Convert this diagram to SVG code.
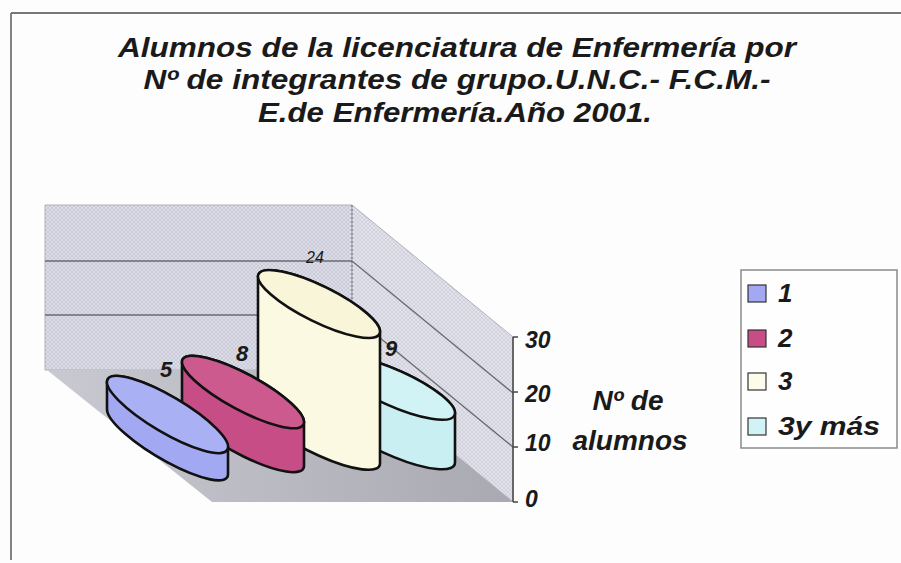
<svg xmlns="http://www.w3.org/2000/svg" width="901" height="563" viewBox="0 0 901 563">
  <defs>
    <style>
      .t { font-family: "Liberation Sans", Arial, sans-serif; font-style: italic; font-weight: bold; fill: #1a1a1a; }
      .title { font-size: 27px; }
      .ax { font-size: 23px; }
      .lg { font-size: 26px; }
      .dl { font-family: "Liberation Sans", Arial, sans-serif; font-style: italic; fill: #1a1a1a; }
      .cyl { stroke: #111; stroke-width: 2.6; stroke-linejoin: round; }
      .grid { stroke: #6a6a72; stroke-width: 1.3; fill: none; }
      .sw { stroke: #333; stroke-width: 1.2; }
    </style>
    <linearGradient id="floorG" x1="0" y1="0" x2="1" y2="0">
      <stop offset="0" stop-color="#c9c9d1"/>
      <stop offset="1" stop-color="#a9a9b2"/>
    </linearGradient>
    <pattern id="hatch" width="4" height="4" patternUnits="userSpaceOnUse">
      <rect width="4" height="4" fill="#dcdde8"/>
      <path d="M0,0 L4,4 M4,0 L0,4" stroke="#c6c7d4" stroke-width="0.8"/>
    </pattern>
    <pattern id="hatch2" width="4" height="4" patternUnits="userSpaceOnUse">
      <rect width="4" height="4" fill="#e3e3ec"/>
      <path d="M0,0 L4,4 M4,0 L0,4" stroke="#cdcdd9" stroke-width="0.8"/>
    </pattern>
  </defs>

  <rect width="901" height="563" fill="#fdfdfd"/>

  <g id="frame" stroke="#777" stroke-width="1.8" fill="none">
    <line x1="11" y1="13" x2="901" y2="13"/>
    <line x1="11" y1="13" x2="11" y2="560"/>
  </g>

  <g id="title" class="t title" text-anchor="middle">
    <text x="457" y="57" textLength="678" lengthAdjust="spacingAndGlyphs">Alumnos de la licenciatura de Enfermería por</text>
    <text x="457" y="89" textLength="627" lengthAdjust="spacingAndGlyphs">Nº de integrantes de grupo.U.N.C.- F.C.M.-</text>
    <text x="455" y="122" textLength="394" lengthAdjust="spacingAndGlyphs">E.de Enfermería.Año 2001.</text>
  </g>

  <g id="plot-area">
    <polygon id="back-wall" points="45,205 352,205 352,370 45,370" fill="url(#hatch)" stroke="#b0b0bc" stroke-width="1"/>
    <polygon id="side-wall" points="352,205 513,337 513,502 352,370" fill="url(#hatch2)" stroke="#b0b0bc" stroke-width="1"/>
    <polygon id="floor" points="47,370 352,370 513,502 212,502" fill="url(#floorG)"/>
    <g id="gridlines" class="grid">
      <line x1="45" y1="261" x2="352" y2="261"/>
      <line x1="45" y1="315" x2="352" y2="315"/>
      <line x1="352" y1="261" x2="513" y2="393"/>
      <line x1="352" y1="315" x2="513" y2="447"/>
      <line x1="352" y1="205" x2="352" y2="370" stroke-dasharray="2,2" stroke-width="1"/>
    </g>
  </g>

  <g id="axis" stroke="#444" stroke-width="1.5">
    <line x1="513" y1="337" x2="513" y2="502"/>
    <line x1="513" y1="337" x2="518" y2="337"/>
    <line x1="513" y1="392" x2="518" y2="392"/>
    <line x1="513" y1="447" x2="518" y2="447"/>
    <line x1="513" y1="502" x2="518" y2="502"/>
  </g>
  <g id="axis-labels" class="t ax">
    <text x="525" y="348">30</text>
    <text x="525" y="402">20</text>
    <text x="525" y="451">10</text>
    <text x="525" y="507">0</text>
  </g>
  <g id="axis-title" class="t" style="font-size:28px" text-anchor="middle">
    <text x="628" y="410">Nº de</text>
    <text x="630" y="450">alumnos</text>
  </g>

  <g id="series-3ymas">
    <path class="cyl" fill="#c9eff3" d="M333,363 L333,412.5 A66.37,18 24.18 0 0 455,462.5 L455,413 A66.37,18 24.18 0 0 333,363 Z"/>
    <ellipse class="cyl" fill="#d2f3f6" cx="394" cy="388" rx="66.37" ry="18" transform="rotate(24.18 394 388)"/>
  </g>
  <g id="series-3">
    <path class="cyl" fill="#fbf9e2" d="M258,276.5 L258,408.5 A67.45,18 26.28 0 0 380,463.5 L380,331.5 A67.45,18 26.28 0 0 258,276.5 Z"/>
    <ellipse class="cyl" fill="#f8f5d8" cx="319" cy="304" rx="67.45" ry="18" transform="rotate(26.28 319 304)"/>
  </g>
  <g id="series-2">
    <path class="cyl" fill="#c64d86" d="M182,362 L182,406 A68.6,18 28.31 0 0 304,466 L304,422 A68.6,18 28.31 0 0 182,362 Z"/>
    <ellipse class="cyl" fill="#cc5a8f" cx="243" cy="392" rx="68.6" ry="18" transform="rotate(28.31 243 392)"/>
  </g>
  <g id="series-1">
    <path class="cyl" fill="#a2a8f2" d="M107,382 L107,409.5 A69.42,18 30.51 0 0 228,474.5 L228,447 A69.42,18 30.51 0 0 107,382 Z"/>
    <ellipse class="cyl" fill="#aab0f4" cx="167.5" cy="414.5" rx="69.42" ry="18" transform="rotate(30.51 167.5 414.5)"/>
  </g>

  <g id="data-labels" class="dl" text-anchor="middle">
    <text x="166" y="377" style="font-size:22px;font-weight:bold">5</text>
    <text x="242" y="361" style="font-size:22px;font-weight:bold">8</text>
    <text x="315" y="263" style="font-size:16px">24</text>
    <text x="391" y="356" style="font-size:22px;font-weight:bold">9</text>
  </g>

  <g id="legend">
    <rect x="741" y="270" width="156" height="178" fill="#fefefe" stroke="#8a8a8a" stroke-width="1.5"/>
    <g id="legend-1">
      <rect class="sw" x="748" y="285" width="18" height="17" fill="#a2a8f2"/>
      <text class="t lg" x="778" y="302">1</text>
    </g>
    <g id="legend-2">
      <rect class="sw" x="748" y="330" width="18" height="17" fill="#c64d86"/>
      <text class="t lg" x="778" y="347">2</text>
    </g>
    <g id="legend-3">
      <rect class="sw" x="748" y="373" width="18" height="17" fill="#fdfbea"/>
      <text class="t lg" x="778" y="390">3</text>
    </g>
    <g id="legend-4">
      <rect class="sw" x="748" y="418" width="18" height="17" fill="#d2f3f6"/>
      <text class="t lg" x="778" y="435" textLength="102" lengthAdjust="spacingAndGlyphs">3y más</text>
    </g>
  </g>
</svg>
